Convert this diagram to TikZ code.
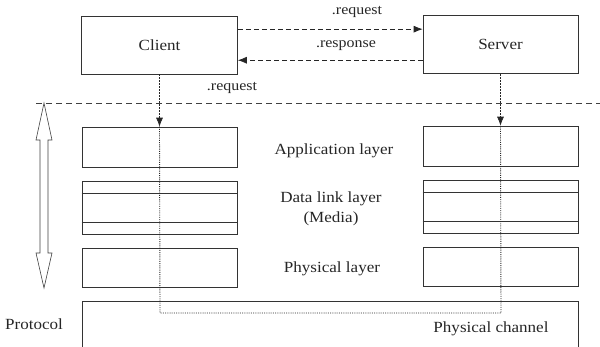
\documentclass[tikz,border=0pt]{standalone}
\usepackage{fontspec}
\setmainfont[FakeStretch=1.1]{Liberation Serif}
\usetikzlibrary{arrows.meta,calc}
\tikzset{
  box/.style={draw=black!80, line width=0.6pt, rectangle, inner sep=0pt},
  lbl/.style={inner sep=0pt, text=black!85, font=\fontsize{15.5}{18}\selectfont},
  slbl/.style={inner sep=0pt, text=black!85, font=\fontsize{14.5}{16}\selectfont},
  msg/.style={dash pattern=on 5pt off 3pt, line width=0.8pt, draw=black!85, -{Latex[length=9pt,width=7pt]}},
  down/.style={dash pattern=on 2pt off 1pt, line width=0.7pt, draw=black!85, -{Latex[length=9pt,width=7pt]}},
  trace/.style={dash pattern=on 1pt off 1.2pt, line width=0.9pt, draw=black!85},
  sep/.style={dash pattern=on 6pt off 4pt, line width=0.6pt, draw=black!75},
  dbl/.style={draw=black!75, line width=0.6pt, fill=white}
}
\begin{document}
\begin{tikzpicture}[x=1pt,y=-1pt]
\useasboundingbox (0,0) rectangle (600,347);
% top boxes
\node[box, lbl, minimum width=156pt, minimum height=58pt] (client) at (159.5,45) {Client};
\node[box, lbl, minimum width=155pt, minimum height=58pt] (server) at (500.5,44.5) {Server};
% messages
\coordinate (req) at ($(client.north east)!0.23!(client.south east)$);
\coordinate (res) at ($(client.north east)!0.76!(client.south east)$);
\draw[msg] (req) -- (server.west |- req);
\draw[msg] (server.west |- res) -- (res);
\node[slbl] (lreq) at (357,12) {.request};
\node[slbl] (lres) at (346,46) {.response};
\node[slbl] (lreq2) at (232,88) {.request};
% separator
\coordinate (sepL) at (36,103);
\coordinate (sepR) at (600,103);
\draw[sep] (sepL) -- (sepR);
% layer boxes
\node[box, minimum width=155pt, minimum height=40pt] (lapp) at (159.5,147) {};
\node[box, minimum width=155pt, minimum height=40pt] (rapp) at (500.5,146) {};
\node[box, minimum width=155pt, minimum height=53pt] (ldl) at (159.5,207.5) {};
\node[box, minimum width=155pt, minimum height=53pt] (rdl) at (500.5,206.5) {};
\node[box, minimum width=155pt, minimum height=39pt] (lph) at (159.5,267.5) {};
\node[box, minimum width=155pt, minimum height=39pt] (rph) at (500.5,267) {};
\draw[box] ($(ldl.north west)+(0,13)$) -- ($(ldl.north east)+(0,13)$);
\draw[box] ($(ldl.south west)+(0,-12)$) -- ($(ldl.south east)+(0,-12)$);
\draw[box] ($(rdl.north west)+(0,13)$) -- ($(rdl.north east)+(0,13)$);
\draw[box] ($(rdl.south west)+(0,-12)$) -- ($(rdl.south east)+(0,-12)$);
% layer labels
\node[lbl] (tapp) at (334,151) {Application layer};
\node[lbl] (tdl) at (331,199) {Data link layer};
\node[lbl] (tmed) at (331,219) {(Media)};
\node[lbl] (tph) at (332,269) {Physical layer};
% channel box
\coordinate (chBL) at (82,347);
\coordinate (chTL) at (82,301);
\coordinate (chTR) at (578,301);
\coordinate (chBR) at (578,347);
\draw[box] (chBL) -- (chTL) -- (chTR) -- (chBR);
\node[lbl] (tprot) at (34,324) {Protocol};
\node[lbl] (tch) at (491,329) {Physical channel};
% down arrows
\draw[down] (client.south) -- (lapp.north);
\draw[down] (server.south) -- (rapp.north);
% trace
\coordinate (tr1) at (160,313);
\coordinate (tr2) at (501,313);
\draw[trace] (lapp.north) -- (tr1) -- (tr2) -- (rapp.north);
% double arrow
\draw[dbl] (44,103) -- (36,140) -- (40,140) -- (40,253) -- (36,253) -- (44,288)
  -- (52,253) -- (48,253) -- (48,140) -- (52,140) -- cycle;
\end{tikzpicture}
\end{document}
